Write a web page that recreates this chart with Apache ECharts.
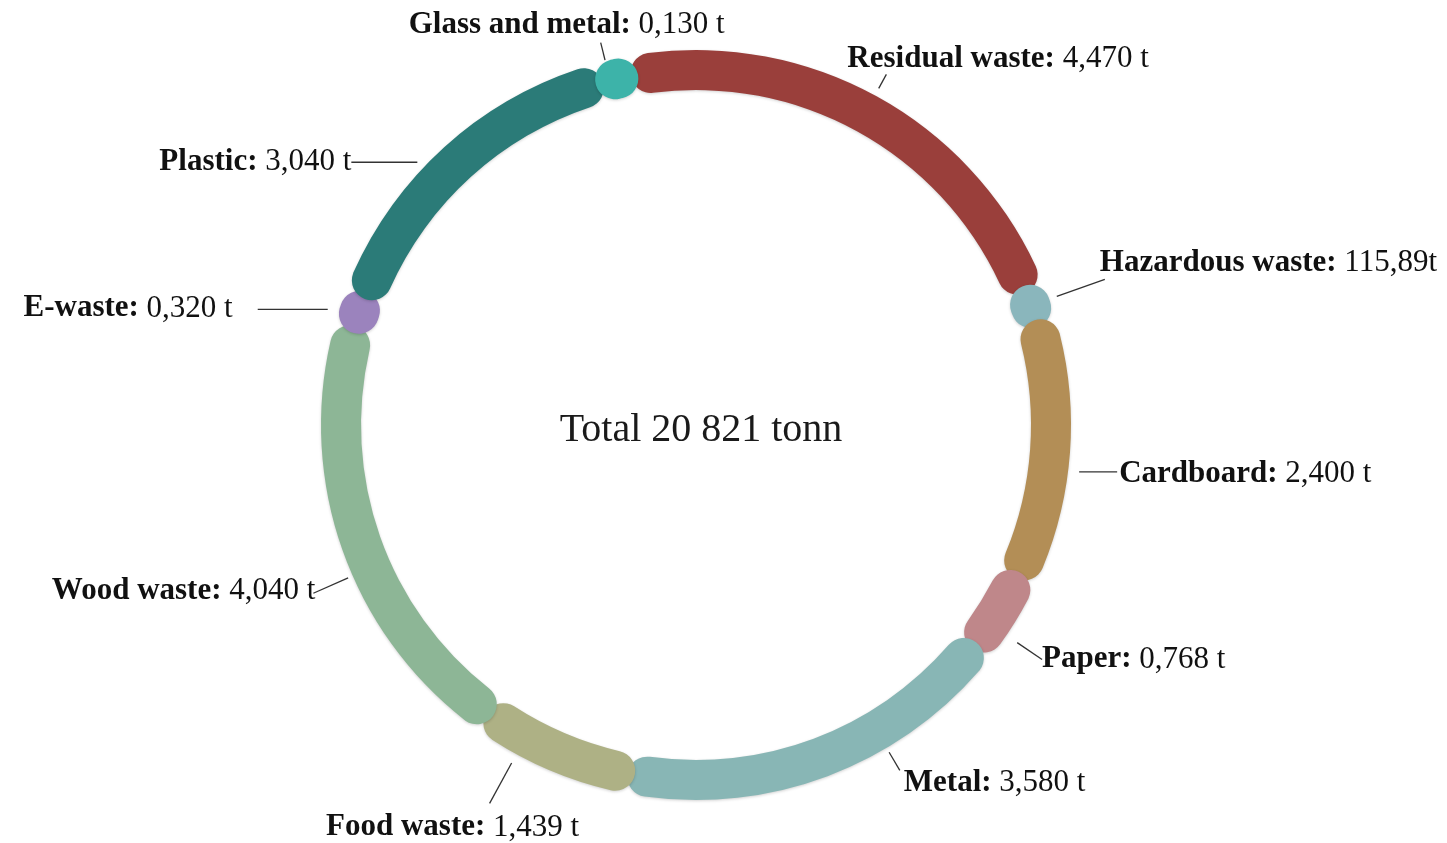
<!DOCTYPE html>
<html>
<head>
<meta charset="utf-8">
<script src="https://cdn.jsdelivr.net/npm/echarts@6/dist/echarts.min.js"></script>
<style>
html,body{margin:0;padding:0;background:#fff;}
#chart{width:1447px;height:843px;}
</style>
</head>
<body>
<div id="chart"></div>
<script>
// Categories in clockwise order from the top
const categories = ['Residual waste', 'Hazardous waste', 'Cardboard', 'Paper', 'Metal', 'Food waste', 'Wood waste', 'E-waste', 'Plastic', 'Glass and metal'];
// Amounts (thousand tonnes, as labelled)
const amounts = [4.470, 0.11589, 2.400, 0.768, 3.580, 1.439, 4.040, 0.320, 3.040, 0.130];
// Label texts as printed on the chart
const amountLabels = ['4,470 t', '115,89t', '2,400 t', '0,768 t', '3,580 t', '1,439 t', '4,040 t', '0,320 t', '3,040 t', '0,130 t'];
const colors = ['#9a3f3b', '#8ab6bc', '#b38e56', '#bf878a', '#88b6b5', '#aeb185', '#8db696', '#9b83bd', '#2b7b78', '#3db3a9'];
const totalText = 'Total 20 821 tonn';

const CX = 696, CY = 425;
// guide-line style per label: angle shift (deg), start radius, radial end radius, horizontal run, text offset, align
const guides = [
  { shift: -0.3, r0: 383, r1: 399, h: 0,  ox: -39, oy: -15, align: 'left' },
  { shift: -0.1, r0: 383, r1: 434, h: 0,  ox: -5,  oy: -16, align: 'left' },
  { shift: 2.75, r0: 386, r1: 386, h: 38, ox: 2,   oy: 2,   align: 'left' },
  { shift: 2.4,  r0: 388, r1: 418, h: 0,  ox: 0,   oy: 0,   align: 'left' },
  { shift: -10,  r0: 380, r1: 401, h: 0,  ox: 4,   oy: 13,  align: 'left' },
  { shift: 5.6,  r0: 385, r1: 431, h: 0,  ox: -37, oy: 24,  align: 'center' },
  { shift: -4.3, r0: 380, r1: 418, h: 0,  ox: 2,   oy: -2,  align: 'right' },
  { shift: -1.1, r0: 386, r1: 386, h: 70, ox: -25, oy: -1,  align: 'right' },
  { shift: -4.5, r0: 383, r1: 383, h: 66, ox: 0,   oy: 0,   align: 'right' },
  { shift: -1.1, r0: 376, r1: 394, h: 0,  ox: -34, oy: -18, align: 'center' }
];

const chart = echarts.init(document.getElementById('chart'));
const data = categories.map((c, i) => ({
  name: c,
  value: amounts[i],
  itemStyle: { color: colors[i] },
  label: { formatter: '{b|' + c + ':}{v| ' + amountLabels[i] + '}' }
}));

chart.setOption({
  animation: false,
  backgroundColor: '#fff',
  title: {
    text: totalText,
    left: CX,
    top: CY,
    textAlign: 'center',
    textVerticalAlign: 'middle',
    textStyle: { fontFamily: 'Liberation Serif', fontWeight: 'normal', fontSize: 40, color: '#1a1a1a' }
  },
  series: [{
    type: 'pie',
    center: [CX, CY],
    radius: [335, 375],
    startAngle: 100,
    clockwise: true,
    minAngle: 7,
    padAngle: -1.2,
    avoidLabelOverlap: false,
    itemStyle: { borderRadius: 20, borderWidth: 0, shadowBlur: 3, shadowColor: 'rgba(0,0,0,0.18)', shadowOffsetY: 1 },
    label: {
      show: true,
      position: 'outside',
      rich: {
        b: { fontFamily: 'Liberation Serif', fontWeight: 'bold', fontSize: 31, color: '#111' },
        v: { fontFamily: 'Liberation Serif', fontWeight: 'normal', fontSize: 31, color: '#111' }
      }
    },
    labelLine: {
      show: true,
      length: 12,
      length2: 10,
      lineStyle: { color: '#333', width: 1.3 }
    },
    labelLayout: function (p) {
      const g = guides[p.dataIndex];
      const pts = p.labelLinePoints;
      if (!g || !pts) return {};
      const a0 = Math.atan2(pts[0][0] - CX, -(pts[0][1] - CY));
      const a = a0 + g.shift * Math.PI / 180;
      const dx = Math.sin(a), dy = -Math.cos(a);
      const s = [CX + g.r0 * dx, CY + g.r0 * dy];
      const m = [CX + g.r1 * dx, CY + g.r1 * dy];
      const e = [m[0] + (dx >= 0 ? 1 : -1) * g.h, m[1]];
      return {
        x: e[0] + g.ox,
        y: e[1] + g.oy,
        align: g.align,
        verticalAlign: 'middle',
        labelLinePoints: [s, m, e]
      };
    },
    emphasis: { disabled: true },
    data: data
  }]
});
</script>
</body>
</html>
